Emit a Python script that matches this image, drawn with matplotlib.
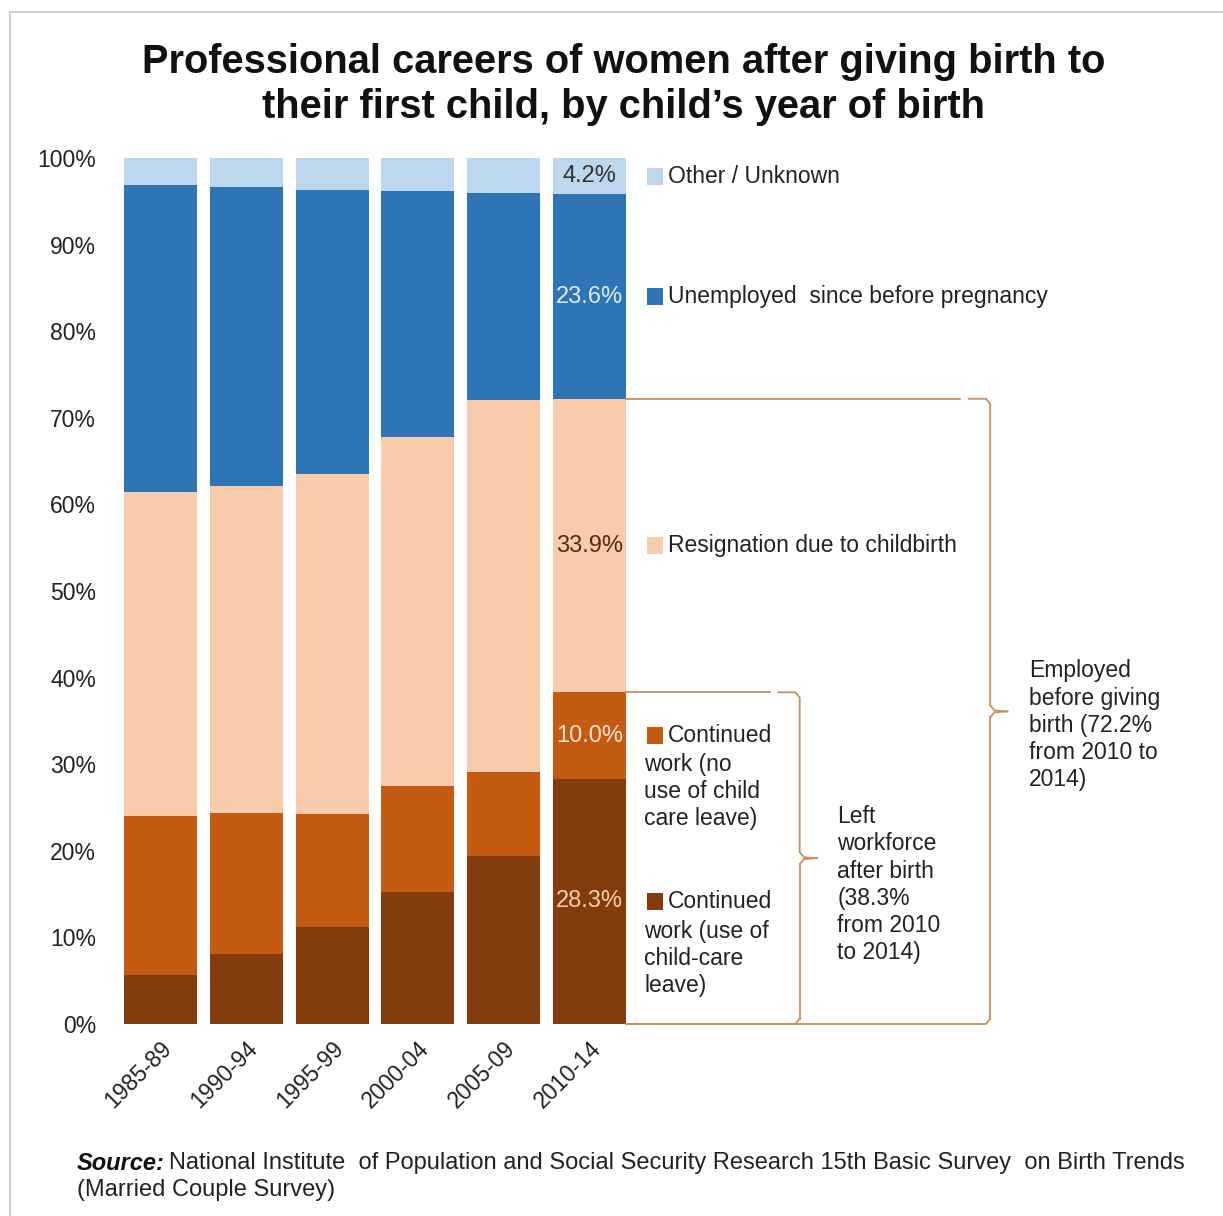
import matplotlib
matplotlib.use("Agg")
import matplotlib.pyplot as plt
from matplotlib.lines import Line2D
import numpy as np

W, H = 1223, 1216
plt.rcParams['font.family'] = ['Liberation Sans', 'DejaVu Sans']

categories = ["1985-89", "1990-94", "1995-99", "2000-04", "2005-09", "2010-14"]
cont_leave = [5.7, 8.1, 11.2, 15.3, 19.4, 28.3]
cont_noleave = [18.3, 16.3, 13.0, 12.2, 9.7, 10.0]
resigned = [37.4, 37.7, 39.3, 40.3, 42.9, 33.9]
unemployed = [35.5, 34.6, 32.8, 28.4, 24.0, 23.6]
other = [3.1, 3.4, 3.8, 3.8, 4.1, 4.2]

series_names = ["Continued", "Continued", "Resignation due to childbirth",
                "Unemployed  since before pregnancy", "Other / Unknown"]
colors = ["#843C0C", "#C55A11", "#F8CBAD", "#2E75B6", "#BDD7EE"]
label_colors = ["#F8CBAD", "#FBE5D6", "#5A2A0A", "#DDEBF7", "#333333"]
yticks = [0, 10, 20, 30, 40, 50, 60, 70, 80, 90, 100]
bracket_color = "#C8905A"

fig = plt.figure(figsize=(W / 100, H / 100), dpi=100)

def fx(px):
    return px / W

def fy(py):
    return 1 - py / H

ax_left, ax_right = 117.6, 1210
ax_top, ax_bot = 158, 1024
ax = fig.add_axes([fx(ax_left), fy(ax_bot), fx(ax_right - ax_left), (ax_bot - ax_top) / H])
spacing = 85.8
ax.set_xlim(-0.5, (ax_right - 160.5) / spacing)
ax.set_ylim(0, 100)

x = np.arange(len(categories))
data = [cont_leave, cont_noleave, resigned, unemployed, other]
bottom = np.zeros(len(categories))
for vals, c in zip(data, colors):
    ax.bar(x, vals, bottom=bottom, width=0.85, color=c, linewidth=0)
    bottom += np.array(vals)

for s in ax.spines.values():
    s.set_visible(False)
ax.set_yticks(yticks)
ax.set_yticklabels([f"{v}%" for v in yticks], fontsize=16.5, color="#222222")
ax.tick_params(axis='y', length=0, pad=15.5)
ax.set_xticks(x)
ax.set_xticklabels(categories, rotation=45, ha='right', va='top',
                   rotation_mode='anchor', fontsize=16.5, color="#222222")
ax.tick_params(axis='x', length=0, pad=9)

# segment labels on last bar
last = len(categories) - 1
cum = 0
centers = []
for vals, lc in zip(data, label_colors):
    v = vals[last]
    centers.append(cum + v / 2)
    ax.text(last, cum + v / 2, f"{v:.1f}%", ha='center', va='center',
            fontsize=17, color=lc)
    cum += v

# legend-like labels
sq_x = last + 0.77
txt_x = last + 0.91
fs = 16.5
ls = 1.23
for i in [4, 3, 2, 1, 0]:
    ax.add_patch(plt.Rectangle((sq_x - 0.1, centers[i] - 1.0), 0.19, 2.0,
                               color=colors[i], clip_on=False, lw=0))
    ax.text(txt_x, centers[i], series_names[i], ha='left', va='center',
            fontsize=fs, color="#222222")
ax.text(last + 0.64, centers[1] - 1.95, "work (no\nuse of child\ncare leave)",
        ha='left', va='top', fontsize=fs, color="#222222", linespacing=ls)
ax.text(last + 0.64, centers[0] - 2.1, "work (use of\nchild-care\nleave)",
        ha='left', va='top', fontsize=fs, color="#222222", linespacing=ls)

# brackets
bar_edge = last + 0.425
employed = cont_leave[last] + cont_noleave[last] + resigned[last]
stayed = cont_leave[last] + cont_noleave[last]

def brace(xb, top, bot, mid, tip):
    kw = dict(color=bracket_color, lw=1.3, clip_on=False)
    ax.add_line(Line2D([bar_edge, xb - 0.35], [top, top], **kw))
    ax.add_line(Line2D([xb - 0.25, xb - 0.05, xb, xb], [top, top, top - 0.6, mid + 0.7], **kw))
    ax.add_line(Line2D([xb, xb + 0.05, xb + tip], [mid + 0.7, mid + 0.1, mid], **kw))
    ax.add_line(Line2D([xb, xb + 0.05, xb + tip], [mid - 0.7, mid - 0.1, mid], **kw))
    ax.add_line(Line2D([xb, xb], [mid - 0.7, bot + 0.6], **kw))
    ax.add_line(Line2D([bar_edge, xb - 0.05, xb], [bot, bot, bot + 0.6], **kw))

brace(last + 2.45, stayed, 0, stayed / 2, 0.2)
brace(last + 4.67, employed, 0, employed / 2, 0.2)

ax.text(last + 2.89, stayed / 2 + 6.1,
        "Left\nworkforce\nafter birth\n(38.3%\nfrom 2010\nto 2014)",
        ha='left', va='top', fontsize=fs, color="#222222", linespacing=ls)
ax.text(last + 5.12, employed / 2 + 6.0,
        "Employed\nbefore giving\nbirth (72.2%\nfrom 2010 to\n2014)",
        ha='left', va='top', fontsize=fs, color="#222222", linespacing=ls)

# title
fig.text(fx(624), fy(62), "Professional careers of women after giving birth to",
         ha='center', va='center', fontsize=28.7, fontweight='bold', color="#111111")
fig.text(fx(624), fy(107), "their first child, by child\u2019s year of birth",
         ha='center', va='center', fontsize=28.7, fontweight='bold', color="#111111")

# source
src_fs = 17
t1 = fig.text(fx(77), fy(1163), "Source:", ha='left', va='center', fontsize=src_fs,
              fontweight='bold', fontstyle='italic', color="#111111")
renderer = fig.canvas.get_renderer()
bb = t1.get_window_extent(renderer=renderer)
fig.text(fx(bb.x1 + 4), fy(1163),
         "National Institute  of Population and Social Security Research 15th Basic Survey  on Birth Trends",
         ha='left', va='center', fontsize=src_fs, color="#222222")
fig.text(fx(77), fy(1190), "(Married Couple Survey)", ha='left', va='center',
         fontsize=src_fs, color="#222222")

# frame lines
fig.add_artist(Line2D([fx(10), fx(10)], [fy(12), 0], color="#D0D0D0", lw=1.5))
fig.add_artist(Line2D([fx(10), 1], [fy(12), fy(12)], color="#D0D0D0", lw=1.5))

fig.savefig("out.png", dpi=100)
